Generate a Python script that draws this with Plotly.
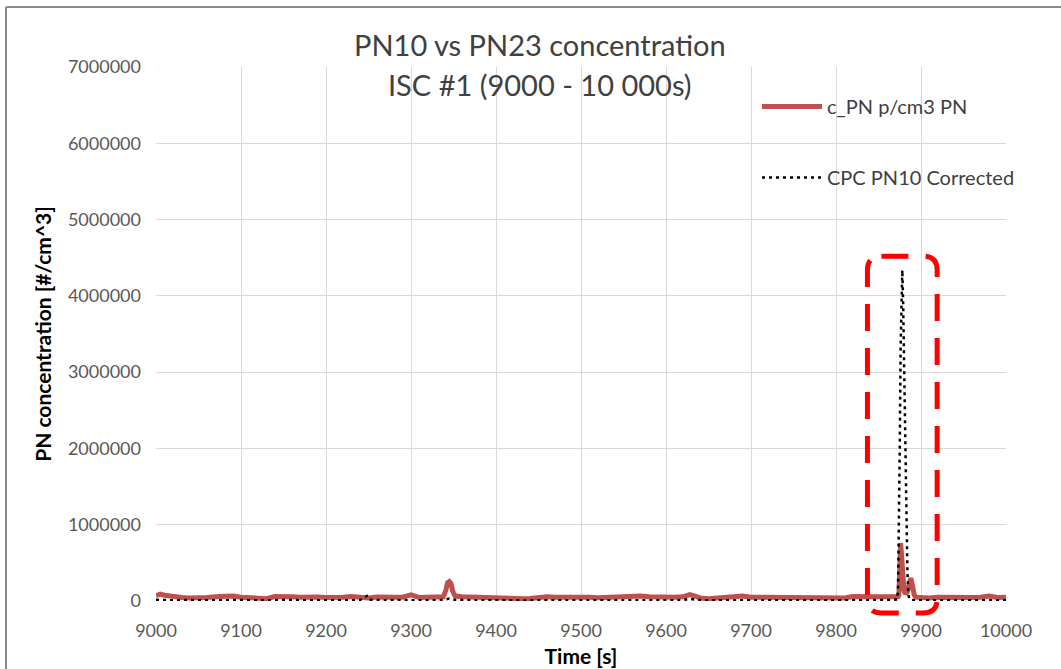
import plotly.graph_objects as go

# Time stamps [s] during ISC #1
time_s = [
    9000, 9005, 9010, 9020, 9030, 9040, 9050, 9060, 9070, 9080, 9090,
    9100, 9110, 9120, 9130, 9140, 9150, 9160, 9170, 9180, 9190,
    9200, 9210, 9220, 9230, 9240, 9248, 9250, 9260, 9270, 9280, 9290,
    9300, 9310, 9320, 9330, 9338, 9341, 9343, 9345, 9347, 9349, 9352, 9360, 9370, 9380, 9390,
    9400, 9410, 9420, 9430, 9440, 9450, 9460, 9470, 9480, 9490,
    9500, 9510, 9520, 9530, 9540, 9550, 9560, 9570, 9580, 9590,
    9600, 9610, 9620, 9628, 9635, 9640, 9650, 9660, 9670, 9680, 9690,
    9700, 9710, 9720, 9730, 9740, 9750, 9760, 9770, 9780, 9790,
    9800, 9810, 9820, 9830, 9840, 9850, 9860, 9866, 9870, 9872, 9873, 9874, 9875, 9876,
    9877, 9878, 9879, 9880, 9881, 9882, 9883, 9884, 9885, 9886, 9888, 9890, 9892, 9894,
    9900, 9910, 9920, 9930, 9940, 9950, 9960, 9970, 9980, 9990, 10000,
]

# c_PN p/cm3 PN (PN23)
c_pn = [
    70000, 90000, 75000, 55000, 45000, 38000, 35000, 45000, 55000, 60000, 65000,
    50000, 42000, 35000, 30000, 58000, 62000, 55000, 50000, 58000, 52000,
    45000, 55000, 50000, 58000, 48000, 42000, 40000, 52000, 45000, 50000, 50000,
    80000, 45000, 50000, 48000, 55000, 140000, 240000, 255000, 230000, 130000, 65000, 55000, 50000, 60000, 45000,
    40000, 45000, 35000, 30000, 32000, 50000, 55000, 48000, 52000, 45000,
    45000, 50000, 42000, 48000, 40000, 45000, 50000, 65000, 55000, 48000,
    45000, 50000, 55000, 85000, 60000, 40000, 30000, 35000, 45000, 50000, 65000,
    50000, 48000, 45000, 50000, 45000, 48000, 42000, 45000, 40000, 38000,
    35000, 40000, 60000, 50000, 55000, 55000, 60000, 65000, 60000, 58000, 55000, 80000, 450000, 760000,
    620000, 380000, 220000, 140000, 110000, 100000, 105000, 120000, 170000, 230000, 300000, 200000, 80000, 50000,
    45000, 40000, 48000, 45000, 42000, 40000, 45000, 50000, 65000, 45000, 50000,
]

# CPC PN10 Corrected
cpc_pn10 = [
    15000, 12000, 14000, 10000, 12000, 10000, 11000, 9000, 12000, 10000, 13000,
    10000, 11000, 9000, 10000, 12000, 11000, 10000, 12000, 11000, 10000,
    11000, 10000, 12000, 10000, 13000, 65000, 18000, 10000, 11000, 12000, 10000,
    11000, 10000, 12000, 10000, 14000, 25000, 30000, 32000, 28000, 20000, 15000, 12000, 10000, 11000, 10000,
    9000, 10000, 9000, 8000, 9000, 10000, 11000, 10000, 12000, 10000,
    10000, 11000, 10000, 9000, 10000, 11000, 10000, 12000, 11000, 10000,
    10000, 11000, 12000, 28000, 15000, 10000, 9000, 9000, 10000, 11000, 12000,
    10000, 11000, 10000, 11000, 10000, 10000, 9000, 10000, 10000, 9000,
    9000, 10000, 11000, 10000, 12000, 11000, 12000, 13000, 14000, 20000, 150000, 900000, 2000000, 3300000,
    4200000, 4340000, 3900000, 3200000, 2400000, 1600000, 900000, 400000, 120000, 30000, 15000, 12000, 11000, 10000,
    10000, 9000, 10000, 11000, 10000, 9000, 10000, 11000, 12000, 10000, 11000,
]

assert len(time_s) == len(c_pn) == len(cpc_pn10)

x_ticks = [9000, 9100, 9200, 9300, 9400, 9500, 9600, 9700, 9800, 9900, 10000]
y_ticks = [0, 1000000, 2000000, 3000000, 4000000, 5000000, 6000000, 7000000]
x_range = [9000, 10000]
y_range = [0, 7000000]

# Highlighted event window (data units)
event_t = [9837, 9919]
event_c = [-157000, 4520000]

W, H = 1061, 669
M_L, M_R, M_T, M_B = 156, 55, 67, 68
plot_w = W - M_L - M_R
plot_h = H - M_T - M_B

FONT = "Lato"
GRID = "#D9D9D9"
TICK = "#595959"

fig = go.Figure()
fig.add_trace(go.Scatter(
    x=time_s, y=c_pn, mode="lines", name="c_PN p/cm3 PN",
    line=dict(color="#C0504D", width=5), legendgroup="a",
))
fig.add_trace(go.Scatter(
    x=time_s, y=cpc_pn10, mode="lines", name="CPC PN10 Corrected",
    line=dict(color="#000000", width=2.5, dash="3px,4px"), legendgroup="b",
))


def to_paper_x(t):
    return (t - x_range[0]) / (x_range[1] - x_range[0])


def to_paper_y(v):
    return (v - y_range[0]) / (y_range[1] - y_range[0])


# Rounded dashed box around the event, built in paper space so it is not clipped
x0, x1 = to_paper_x(event_t[0]), to_paper_x(event_t[1])
y0, y1 = to_paper_y(event_c[0]), to_paper_y(event_c[1])
rx, ry = 14 / plot_w, 14 / plot_h
box_path = (
    f"M{x0 + rx},{y1} L{x1 - rx},{y1} Q{x1},{y1} {x1},{y1 - ry} "
    f"L{x1},{y0 + ry} Q{x1},{y0} {x1 - rx},{y0} "
    f"L{x0 + rx},{y0} Q{x0},{y0} {x0},{y0 + ry} "
    f"L{x0},{y1 - ry} Q{x0},{y1} {x0 + rx},{y1} Z"
)
fig.add_shape(type="path", path=box_path, xref="paper", yref="paper",
              line=dict(color="#FF0000", width=5, dash="27px,17px"), layer="above")

# Chart frame (left and top edges)
fx = (6 - M_L) / plot_w
fy = (H - M_B - 7) / plot_h
fig.add_shape(type="line", xref="paper", yref="paper", x0=fx, x1=fx, y0=fy, y1=-0.5,
              line=dict(color="#8C8C8C", width=2))
fig.add_shape(type="line", xref="paper", yref="paper", x0=fx, x1=1.2, y0=fy, y1=fy,
              line=dict(color="#8C8C8C", width=2))

# Two-line chart title
for txt, py in [("PN10 vs PN23 concentration", 45), ("ISC #1 (9000 - 10 000s)", 85)]:
    fig.add_annotation(
        text=txt, xref="paper", yref="paper",
        x=(540 - M_L) / plot_w, y=(H - M_B - py) / plot_h,
        showarrow=False, xanchor="center", yanchor="middle",
        font=dict(family=FONT, size=29, color="#404040"),
    )

fig.update_layout(
    width=W, height=H,
    margin=dict(l=M_L, r=M_R, t=M_T, b=M_B, autoexpand=False),
    paper_bgcolor="white", plot_bgcolor="white",
    font=dict(family=FONT, color=TICK),
    legend=dict(
        x=(757 - M_L) / plot_w, y=(H - M_B - 87) / plot_h,
        xanchor="left", yanchor="top",
        bgcolor="rgba(0,0,0,0)", itemwidth=60,
        traceorder="grouped", tracegroupgap=42,
        font=dict(family=FONT, size=20, color="#404040"),
    ),
    xaxis=dict(
        range=x_range, tickvals=x_ticks, tickformat="d", automargin=False,
        showgrid=True, gridcolor=GRID, gridwidth=1,
        zeroline=False, showline=False, ticks="",
        ticklabelstandoff=17,
        tickfont=dict(family=FONT, size=18, color=TICK),
        title=dict(text="<b>Time [s]</b>", standoff=9,
                   font=dict(family=FONT, size=21, color="#000000")),
    ),
    yaxis=dict(
        range=y_range, tickvals=y_ticks, tickformat="d", automargin=False,
        showgrid=True, gridcolor=GRID, gridwidth=1,
        zeroline=False, showline=False, ticks="",
        ticklabelstandoff=14,
        tickfont=dict(family=FONT, size=18, color=TICK),
        title=dict(text="<b>PN concentration [#/cm^3]</b>", standoff=10,
                   font=dict(family=FONT, size=21, color="#000000")),
    ),
)

fig.write_html("out.html")
